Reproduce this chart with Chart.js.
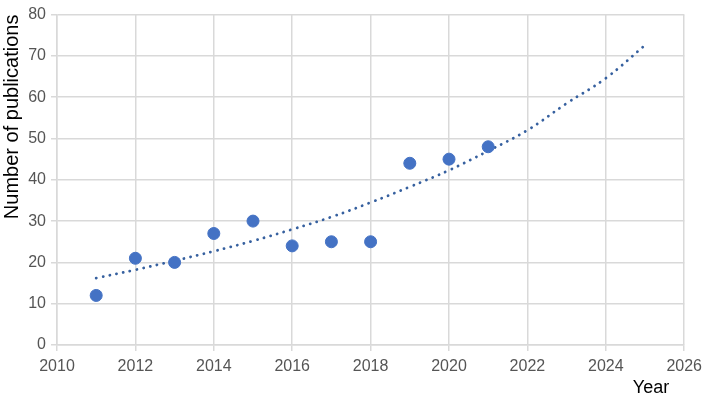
<!DOCTYPE html>
<html lang="en">
<head>
    <meta charset="UTF-8">
    <title>Number of publications per year</title>
    <script src="https://cdn.jsdelivr.net/npm/chart.js"></script>
    <style>
        html, body {
            margin: 0;
            padding: 0;
            background: #fff;
        }
        .wrap {
            width: 708px;
            height: 401px;
        }
    </style>
</head>
<body>
    <div class="wrap">
        <canvas id="pubChart"></canvas>
    </div>

    <script>
        // publications per year
        var years = [2011, 2012, 2013, 2014, 2015, 2016, 2017, 2018, 2019, 2020, 2021];
        var publications = [12, 21, 20, 27, 30, 24, 25, 25, 44, 45, 48];

        // dotted trend line, estimated at each year
        var trendYears = [2011, 2012, 2013, 2014, 2015, 2016, 2017, 2018, 2019, 2020, 2021, 2022, 2023, 2024, 2025];
        var trendValues = [16.2, 18.2, 20.4, 22.7, 25.2, 28, 31, 34.5, 38.3, 42.3, 47, 52, 58.5, 64.6, 72.6];

        var xTicks = [2010, 2012, 2014, 2016, 2018, 2020, 2022, 2024, 2026];
        var yTicks = [0, 10, 20, 30, 40, 50, 60, 70, 80];

        var fontFam = '"Liberation Sans", Arial, sans-serif';
        var gridCol = '#d9d9d9';

        var ctx = document.getElementById('pubChart').getContext('2d');
        var pubChart = new Chart(ctx, {
            type: 'scatter',
            data: {
                datasets: [{
                    label: 'Publications',
                    data: years.map(function (y, i) { return { x: y, y: publications[i] }; }),
                    backgroundColor: '#4472c4',
                    borderColor: '#4472c4',
                    pointRadius: 6,
                    pointHoverRadius: 6
                }, {
                    label: 'Trend',
                    data: trendYears.map(function (y, i) { return { x: y, y: trendValues[i] }; }),
                    showLine: true,
                    pointRadius: 0,
                    borderColor: '#36609f',
                    borderWidth: 2.8,
                    borderDash: [0.1, 6.8],
                    borderCapStyle: 'round',
                    tension: 0.4,
                    fill: false
                }]
            },
            options: {
                responsive: true,
                maintainAspectRatio: false,
                animation: false,
                layout: {
                    padding: { left: 0, right: 23, top: 11, bottom: 0 }
                },
                plugins: {
                    legend: { display: false },
                    tooltip: { enabled: false }
                },
                scales: {
                    x: {
                        type: 'linear',
                        min: 2010,
                        max: 2026,
                        afterBuildTicks: function (scale) {
                            scale.ticks = xTicks.map(function (v) { return { value: v }; });
                        },
                        afterFit: function (scale) { scale.height = 56; },
                        ticks: {
                            color: '#555',
                            font: { family: fontFam, size: 16 },
                            padding: 6,
                            maxRotation: 0,
                            callback: function (v) { return String(v); }
                        },
                        grid: { color: gridCol, lineWidth: 1.5, tickLength: 6 },
                        border: { color: gridCol, width: 1.5 },
                        title: {
                            display: true,
                            text: 'Year   ',
                            align: 'end',
                            color: '#000',
                            font: { family: fontFam, size: 18 },
                            padding: { top: 0, bottom: 2 }
                        }
                    },
                    y: {
                        min: 0,
                        max: 80,
                        afterBuildTicks: function (scale) {
                            scale.ticks = yTicks.map(function (v) { return { value: v }; });
                        },
                        afterFit: function (scale) { scale.width = 57; },
                        ticks: {
                            color: '#555',
                            font: { family: fontFam, size: 16 },
                            padding: 5
                        },
                        grid: { color: gridCol, lineWidth: 1.5, tickLength: 6 },
                        border: { color: gridCol, width: 1.5 },
                        title: {
                            display: true,
                            text: 'Number of publications',
                            align: 'end',
                            color: '#000',
                            font: { family: fontFam, size: 20 },
                            padding: { top: 0, bottom: 0 }
                        }
                    }
                }
            }
        });
    </script>
</body>
</html>
